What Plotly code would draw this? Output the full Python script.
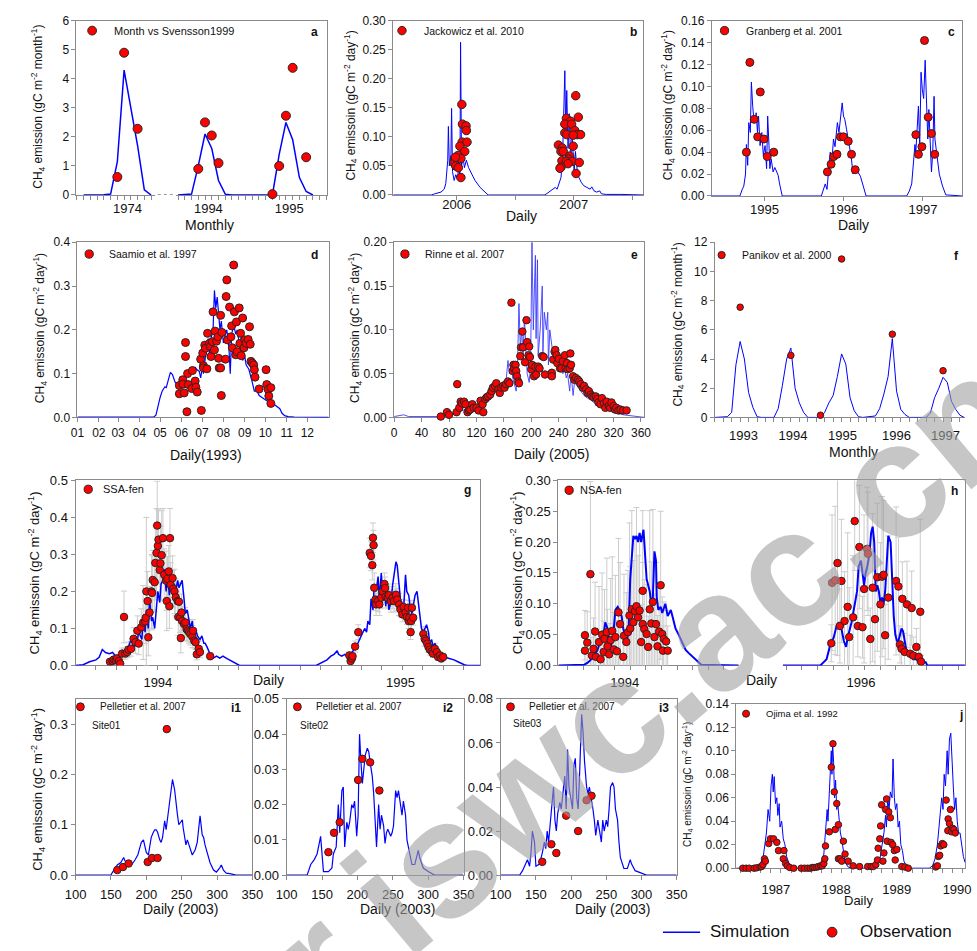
import plotly.graph_objects as go

W, H = 977, 951
FONT = "Liberation Sans, Arial, Helvetica, sans-serif"
BLUE = "#0000ff"
RED = "#ff0000"
FRAME = "#8a8a8a"
ERRC = "#cccccc"

# ================= DATA =================
# (a) monthly, month index (0 = Jan 1974, 12 = Jan 1994, 24 = Jan 1995)
a_sim1_t = [0, 1, 2, 3, 4, 5, 6, 7, 8, 9, 10]
a_sim1_v = [0, 0, 0, 0.01, 0.03, 1.15, 4.3, 3.0, 1.7, 0.18, 0]
a_sim2_t = [14, 15, 16, 17, 18, 19, 20, 21, 22, 23, 24, 25, 26, 27, 28, 29, 30, 31, 32, 33, 34]
a_sim2_v = [0, 0.01, 0.03, 1.0, 2.1, 1.6, 0.5, 0.03, 0, 0, 0, 0, 0, 0, 0, 1.4, 2.5, 1.9, 0.6, 0.12, 0]
a_obs_t = [5, 6, 8, 17, 18, 19, 20, 28, 29, 30, 31, 33]
a_obs_v = [0.62, 4.9, 2.28, 0.9, 2.5, 2.05, 1.1, 0.03, 1.0, 2.73, 4.38, 1.3]
a_ticks = ["1974", "1994", "1995"]

# (b) daily, day from 1 Jan 2006
b_sim_d = [-16, 103, 113, 133, 143, 148, 154, 156, 159, 164, 166, 169, 174, 179, 184, 189, 192, 194, 197, 202,
           206, 212, 219, 229, 239, 255, 270, 280, 457, 462, 477, 489, 495, 502, 507, 512, 515, 519, 522, 525,
           529, 533, 537, 542, 548, 552, 558, 563, 570, 578, 588, 598, 603, 610, 618, 628, 633, 648, 694, 765]
b_sim_v = [0, 0, 0.002, 0.005, 0.01, 0.02, 0.06, 0.118, 0.05, 0.07, 0.149, 0.04, 0.025, 0.035, 0.028, 0.05, 0.03, 0.263, 0.05, 0.065,
           0.047, 0.06, 0.047, 0.035, 0.025, 0.013, 0.005, 0, 0, 0.002, 0.007, 0.013, 0.01, 0.02, 0.03, 0.065, 0.137, 0.214, 0.1, 0.18,
           0.08, 0.14, 0.06, 0.1, 0.04, 0.075, 0.04, 0.03, 0.022, 0.016, 0.013, 0.01, 0.014, 0.007, 0.005, 0.007, 0.002, 0.001, 0.001, 0]
b_obs_d = [198, 200, 211, 212, 199, 214, 192, 207, 186, 176, 174, 179, 187, 195, 195, 178,
           553, 561, 524, 537, 519, 540, 550, 519, 525, 558, 568, 545, 499, 511, 507, 514, 545, 534, 530, 510,
           524, 542, 529, 564, 507, 504, 554]
b_obs_v = [0.156, 0.122, 0.119, 0.111, 0.091, 0.091, 0.084, 0.075, 0.068, 0.062, 0.055, 0.05, 0.047, 0.063, 0.03, 0.065,
           0.171, 0.134, 0.132, 0.127, 0.122, 0.122, 0.111, 0.107, 0.104, 0.104, 0.104, 0.103, 0.086, 0.081, 0.075, 0.075, 0.084, 0.067, 0.062, 0.059,
           0.058, 0.058, 0.054, 0.056, 0.048, 0.046, 0.037]
b_ticks = ["2006", "2007"]

# (c) daily, day from 1 Jan 1995
c_sim_d = [-60, 69, 80, 87, 95, 99, 105, 110, 117, 122, 128, 132, 140, 144, 150, 155, 162, 170, 177, 185,
           192, 197, 203, 207, 213, 222, 230, 237, 245, 252, 264,
           444, 455, 462, 470, 477, 485, 492, 500, 507, 518, 525, 533, 540, 546, 552, 560, 567, 575, 582, 590,
           597, 605, 615, 624, 635, 650,
           837, 849, 860, 867, 875, 879, 885, 891, 897, 903, 909, 915, 922, 927, 934, 939, 945, 951, 957, 963,
           967, 972, 979, 987, 1002, 1017, 1092]
c_sim_v = [0, 0, 0.006, 0.009, 0.02, 0.047, 0.028, 0.067, 0.058, 0.104, 0.082, 0.073, 0.068, 0.076, 0.058, 0.073, 0.046, 0.058, 0.037, 0.046,
           0.025, 0.073, 0.046, 0.025, 0.034, 0.022, 0.026, 0.022, 0.019, 0.011, 0,
           0, 0.0075, 0.011, 0.006, 0.025, 0.04, 0.03, 0.052, 0.045, 0.067, 0.058, 0.076, 0.085, 0.073, 0.07, 0.061, 0.052, 0.046, 0.035, 0.02,
           0.025, 0.022, 0.021, 0.018, 0.011, 0,
           0, 0.0045, 0.011, 0.029, 0.047, 0.04, 0.064, 0.082, 0.046, 0.113, 0.097, 0.089, 0.124, 0.082, 0.052, 0.079, 0.043, 0.022, 0.04, 0.091,
           0.052, 0.043, 0.031, 0.02, 0.009, 0.001, 0]
c_obs_d = [99, 115, 135, 151, 163, 180, 195, 225, 472, 489, 501, 516, 532, 546, 568, 583, 600,
           879, 891, 907, 919, 936, 951, 966]
c_obs_v = [0.04, 0.122, 0.07, 0.054, 0.095, 0.052, 0.036, 0.04, 0.022, 0.029, 0.036, 0.038, 0.054, 0.054, 0.05, 0.038, 0.024,
           0.056, 0.038, 0.045, 0.142, 0.072, 0.057, 0.038]
c_ticks = ["1995", "1996", "1997"]

# (d) daily 1993, day of year
d_sim_d = [0, 111, 114, 116, 120, 123, 127, 129, 133, 135, 138, 140, 142, 145, 147, 149, 154, 159, 164, 168,
           171, 173, 177, 179, 182, 183, 186, 188, 190, 192, 194, 197, 199, 201, 203, 205, 207, 209, 212, 215,
           217, 220, 222, 224, 227, 230, 232, 235, 237, 238, 240, 243, 245, 249, 251, 254, 257, 261, 264, 268,
           272, 275, 280, 282, 284, 289, 294, 297, 301, 306, 315, 365]
d_sim_v = [0.001, 0.001, 0.005, 0.02, 0.045, 0.06, 0.07, 0.068, 0.09, 0.103, 0.098, 0.09, 0.08, 0.075, 0.065, 0.08, 0.09, 0.1, 0.105, 0.1,
           0.115, 0.11, 0.105, 0.09, 0.12, 0.1, 0.14, 0.17, 0.18, 0.14, 0.18, 0.2, 0.29, 0.25, 0.275, 0.23, 0.2, 0.22, 0.17, 0.19,
           0.2, 0.16, 0.1, 0.19, 0.21, 0.19, 0.2, 0.17, 0.15, 0.2, 0.13, 0.14, 0.12, 0.11, 0.1, 0.08, 0.06, 0.06, 0.05, 0.045,
           0.04, 0.038, 0.035, 0.03, 0.032, 0.026, 0.02, 0.01, 0.004, 0.002, 0.001, 0]
d_obs_d = [148, 148, 153, 153, 155, 157, 157, 159, 160, 161, 166, 167, 171, 172, 174, 179, 180, 182, 183, 183,
           185, 186, 188, 189, 192, 193, 194, 196, 197, 199, 200, 202, 204, 205, 206, 208, 208, 209, 210, 215,
           216, 217, 218, 221, 223, 224, 225, 227, 228, 230, 231, 232, 235, 236, 237, 238, 240, 242, 243, 245,
           248, 250, 251, 252, 254, 256, 257, 258, 264, 274, 275, 277, 278, 281, 281]
d_obs_v = [0.073, 0.054, 0.086, 0.076, 0.056, 0.171, 0.139, 0.013, 0.1, 0.075, 0.066, 0.107, 0.083, 0.069, 0.058, 0.133, 0.016, 0.147, 0.118, 0.113,
           0.165, 0.158, 0.111, 0.192, 0.169, 0.162, 0.139, 0.173, 0.241, 0.154, 0.197, 0.174, 0.184, 0.135, 0.113, 0.233, 0.113, 0.05, 0.194, 0.133,
           0.276, 0.314, 0.177, 0.252, 0.184, 0.209, 0.159, 0.348, 0.241, 0.143, 0.218, 0.15, 0.25, 0.169, 0.192, 0.141, 0.227, 0.159, 0.177, 0.169,
           0.178, 0.207, 0.167, 0.128, 0.124, 0.12, 0.109, 0.092, 0.065, 0.109, 0.075, 0.064, 0.049, 0.068, 0.032]
d_month_start = [0, 31, 59, 90, 120, 151, 181, 212, 243, 273, 304, 334]
d_month_lab = ["01", "02", "03", "04", "05", "06", "07", "08", "09", "10", "11", "12"]

# (e) daily 2005, day of year
e_sim_d = [0, 9, 14, 21, 54, 69, 78, 88, 97, 107, 114, 121, 128, 135, 142, 149, 154, 156, 160, 163,
           166, 168, 171, 173, 175, 178, 180, 182, 184, 186, 188, 190, 192, 194, 197, 199, 201, 203, 205, 206,
           207, 209, 210, 213, 216, 217, 219, 222, 224, 225, 227, 230, 232, 234, 237, 239, 242, 244, 246, 249,
           251, 253, 256, 258, 261, 263, 268, 272, 277, 282, 287, 291, 296, 301, 306, 310, 315, 320, 324, 334,
           343, 353, 365]
e_sim_v = [0.001, 0.002, 0.003, 0.001, 0.0005, 0.001, 0.002, 0.004, 0.007, 0.01, 0.012, 0.015, 0.018, 0.022, 0.027, 0.032, 0.036, 0.03, 0.038, 0.04,
           0.065, 0.05, 0.06, 0.045, 0.038, 0.03, 0.06, 0.13, 0.08, 0.1, 0.07, 0.115, 0.08, 0.05, 0.04, 0.06, 0.2, 0.1, 0.16, 0.185,
           0.09, 0.18, 0.07, 0.1, 0.15, 0.075, 0.12, 0.1, 0.12, 0.06, 0.1, 0.08, 0.07, 0.075, 0.07, 0.08, 0.06, 0.07, 0.05, 0.055,
           0.045, 0.05, 0.03, 0.05, 0.025, 0.04, 0.035, 0.03, 0.025, 0.022, 0.02, 0.017, 0.015, 0.013, 0.01, 0.012, 0.008, 0.006, 0.005, 0.003,
           0.002, 0.001, 0]
e_obs_d = [68, 77, 80, 91, 92, 95, 97, 99, 102, 104, 107, 109, 111, 114, 116, 120, 123, 126, 129, 130,
           133, 135, 137, 140, 142, 144, 147, 149, 152, 154, 156, 159, 161, 163, 166, 168, 171, 173, 174, 175,
           177, 178, 179, 181, 182, 184, 185, 187, 188, 191, 193, 194, 196, 197, 198, 200, 201, 204, 206, 207,
           210, 212, 216, 218, 220, 230, 230, 232, 234, 235, 237, 238, 240, 242, 244, 246, 249, 250, 252, 253,
           256, 257, 258, 261, 263, 265, 268, 270, 272, 275, 277, 280, 282, 284, 287, 289, 291, 294, 296, 298,
           301, 303, 306, 308, 310, 313, 315, 317, 320, 322, 324, 327, 330, 334, 339]
e_obs_v = [0.001, 0.006, 0.003, 0.006, 0.038, 0.011, 0.018, 0.016, 0.018, 0.015, 0.006, 0.008, 0.009, 0.015, 0.011, 0.011, 0.008, 0.019, 0.015, 0.006,
           0.021, 0.023, 0.024, 0.026, 0.03, 0.034, 0.036, 0.039, 0.032, 0.028, 0.034, 0.036, 0.034, 0.038, 0.041, 0.039, 0.131, 0.053, 0.06, 0.056,
           0.06, 0.053, 0.047, 0.041, 0.039, 0.07, 0.08, 0.098, 0.08, 0.063, 0.111, 0.086, 0.071, 0.081, 0.069, 0.055, 0.06, 0.047, 0.058, 0.049,
           0.058, 0.056, 0.07, 0.069, 0.049, 0.051, 0.047, 0.066, 0.075, 0.077, 0.071, 0.062, 0.067, 0.056, 0.056, 0.064, 0.071, 0.056, 0.062, 0.055,
           0.056, 0.073, 0.06, 0.047, 0.043, 0.045, 0.043, 0.041, 0.038, 0.034, 0.036, 0.032, 0.028, 0.03, 0.026, 0.024, 0.023, 0.024, 0.021, 0.017,
           0.015, 0.022, 0.016, 0.011, 0.018, 0.013, 0.011, 0.017, 0.013, 0.009, 0.011, 0.008, 0.009, 0.008, 0.008]

# (f) monthly, month index (0 = Jan 1993)
f_sim_t = [0, 3, 4, 5, 6, 7, 8, 9, 10, 11,
           14, 15, 16, 17, 18, 19, 20, 21, 22,
           25, 26, 27, 28, 29, 30, 31, 32, 33, 34, 35,
           38, 39, 40, 41, 42, 43, 44, 45, 46,
           50, 51, 52, 53, 54, 55, 56, 57, 58, 59]
f_sim_v = [0, 0.05, 0.35, 3.6, 5.2, 4.0, 1.7, 0.7, 0.05, 0,
           0, 0.6, 2.2, 4.0, 4.75, 2.0, 1.0, 0.35, 0,
           0, 0.35, 1.0, 1.5, 2.8, 4.35, 3.65, 1.35, 0.45, 0.05, 0,
           0.1, 0.6, 1.6, 2.8, 5.4, 1.8, 0.55, 0.2, 0,
           0, 0.3, 1.35, 2.0, 2.75, 2.4, 1.1, 0.55, 0.15, 0]
f_obs_t = [6, 18, 25, 30, 42, 54]
f_obs_v = [7.55, 4.25, 0.15, 10.85, 5.7, 3.2]
f_ticks = ["1993", "1994", "1995", "1996", "1997"]

# (g) SSA-fen, day count (1995 days = 365 + day of year)
g_sim_d = [80, 92, 102, 112, 117, 122, 127, 133, 138, 143, 148, 153, 158, 163, 167, 171, 176, 179, 184, 186,
           189, 191, 194, 196, 199, 201, 204, 207, 209, 212, 214, 217, 219, 222, 224, 227, 229, 232, 235, 237,
           240, 242, 245, 247, 250, 252, 255, 258, 260, 263, 265, 268, 271, 275, 278, 281, 283, 286, 291, 296,
           301, 306, 311, 316, 321, 326, 332, 337,
           457, 462, 469, 474, 480, 485, 490, 492, 497, 502, 508, 510, 515, 520, 525, 531, 533, 536, 538, 541,
           543, 546, 548, 551, 554, 556, 559, 561, 564, 566, 569, 571, 574, 577, 579, 582, 584, 587, 589, 592,
           594, 597, 599, 602, 605, 607, 610, 612, 615, 617, 620, 622, 625, 628, 630, 633, 635, 638, 640, 643,
           648, 653, 658, 663, 668, 673, 679, 684, 689, 694, 714]
g_sim_v = [0, 0.002, 0.01, 0.015, 0.022, 0.043, 0.035, 0.032, 0.035, 0.025, 0.028, 0.03, 0.04, 0.05, 0.07, 0.05, 0.06, 0.09, 0.07, 0.13,
           0.09, 0.15, 0.1, 0.18, 0.12, 0.13, 0.1, 0.15, 0.2, 0.17, 0.22, 0.23, 0.26, 0.2, 0.25, 0.19, 0.24, 0.2, 0.22, 0.2,
           0.23, 0.21, 0.22, 0.23, 0.18, 0.14, 0.15, 0.12, 0.1, 0.12, 0.08, 0.1, 0.08, 0.07, 0.08, 0.06, 0.06, 0.05, 0.03, 0.02,
           0.025, 0.02, 0.025, 0.02, 0.015, 0.01, 0.005, 0,
           0, 0.005, 0.01, 0.015, 0.025, 0.03, 0.04, 0.03, 0.025, 0.03, 0.02, 0.03, 0.04, 0.05, 0.07, 0.09, 0.1, 0.09, 0.12, 0.11,
           0.18, 0.15, 0.22, 0.2, 0.24, 0.18, 0.25, 0.2, 0.21, 0.16, 0.2, 0.15, 0.17, 0.22, 0.25, 0.28, 0.27, 0.22, 0.18, 0.16,
           0.15, 0.245, 0.2, 0.19, 0.15, 0.14, 0.17, 0.19, 0.2, 0.17, 0.12, 0.1, 0.09, 0.1, 0.11, 0.09, 0.06, 0.07, 0.05, 0.06,
           0.04, 0.03, 0.02, 0.02, 0.018, 0.015, 0.01, 0.005, 0.002, 0, 0]
g_obs_d = [134, 138, 140, 143, 145, 148, 150, 153, 156, 158, 161, 163, 167, 171, 174, 177, 179, 183, 186, 189,
           190, 191, 193, 194, 196, 199, 200, 201, 204, 205, 207, 208, 209, 210, 212, 213, 215, 217, 219, 222,
           223, 224, 226, 227, 228, 229, 232, 233, 235, 237, 240, 241, 242, 244, 245, 246, 247, 250, 252, 254,
           256, 258, 260, 263, 264, 266, 268, 270, 273, 275, 291,
           509, 511, 513, 514, 518, 523, 541, 543, 545, 546, 547, 548, 550, 551, 554, 556, 559, 561, 564, 565,
           566, 569, 571, 574, 577, 579, 582, 584, 587, 589, 592, 594, 597, 599, 601, 602, 603, 605, 606, 607,
           609, 625, 627, 629, 631, 633, 635, 638, 640, 643, 646, 648, 651, 653, 656]
g_obs_v = [0.01, 0.012, 0.016, 0.014, 0.019, 0.012, 0.005, 0.032, 0.131, 0.032, 0.036, 0.043, 0.045, 0.072, 0.063, 0.094, 0.059, 0.103, 0.116, 0.119,
           0.129, 0.2, 0.174, 0.076, 0.143, 0.2, 0.196, 0.231, 0.225, 0.277, 0.304, 0.378, 0.323, 0.34, 0.258, 0.276, 0.298, 0.344, 0.245, 0.229,
           0.174, 0.234, 0.254, 0.16, 0.344, 0.218, 0.236, 0.207, 0.2, 0.184, 0.174, 0.131, 0.172, 0.129, 0.074, 0.143, 0.12, 0.112, 0.116, 0.098,
           0.094, 0.09, 0.085, 0.078, 0.094, 0.067, 0.063, 0.03, 0.045, 0.036, 0.025,
           0.027, 0.012, 0.019, 0.025, 0.051, 0.09, 0.304, 0.296, 0.271, 0.345, 0.325, 0.21, 0.178, 0.165, 0.175, 0.165, 0.183, 0.2, 0.22, 0.209,
           0.186, 0.183, 0.19, 0.174, 0.183, 0.174, 0.191, 0.178, 0.165, 0.152, 0.138, 0.158, 0.143, 0.131, 0.156, 0.12, 0.129, 0.09, 0.12, 0.156,
           0.129, 0.085, 0.072, 0.067, 0.059, 0.05, 0.043, 0.038, 0.032, 0.045, 0.036, 0.023, 0.027, 0.019, 0.023]
g_obs_err = [0.005, 0.005, 0.008, 0.006, 0.01, 0.008, 0.005, 0.015, 0.07, 0.015, 0.015, 0.02, 0.02, 0.03, 0.03, 0.04, 0.03, 0.05, 0.1, 0.06,
             0.05, 0.2, 0.08, 0.05, 0.07, 0.1, 0.1, 0.08, 0.08, 0.1, 0.12, 0.12, 0.1, 0.08, 0.08, 0.1, 0.12, 0.08, 0.07, 0.08,
             0.08, 0.06, 0.07, 0.06, 0.08, 0.06, 0.06, 0.05, 0.06, 0.05, 0.05, 0.05, 0.05, 0.04, 0.04, 0.05, 0.04, 0.03, 0.04, 0.03,
             0.03, 0.03, 0.03, 0.03, 0.03, 0.02, 0.02, 0.015, 0.02, 0.015, 0.01,
             0.01, 0.008, 0.008, 0.01, 0.015, 0.02, 0.04, 0.04, 0.04, 0.04, 0.04, 0.04, 0.03, 0.03, 0.03, 0.03, 0.03, 0.03, 0.03, 0.03,
             0.03, 0.03, 0.03, 0.03, 0.03, 0.03, 0.03, 0.03, 0.03, 0.02, 0.02, 0.02, 0.02, 0.02, 0.02, 0.02, 0.02, 0.02, 0.02, 0.02,
             0.02, 0.02, 0.02, 0.015, 0.015, 0.015, 0.015, 0.01, 0.01, 0.015, 0.01, 0.01, 0.01, 0.01, 0.01]
g_ticks = ["1994", "1995"]

# (h) NSA-fen, day of year for 1994 and 1996
h94_sim_d = [80, 113, 118, 122, 126, 130, 134, 138, 140, 143, 145, 147, 150, 153, 156, 158, 161, 163, 165, 168,
             170, 172, 174, 176, 178, 180, 182, 184, 186, 188, 189, 190, 193, 195, 197, 199, 201, 203, 205, 206,
             208, 211, 213, 217, 220, 222, 224, 226, 230, 234, 238, 243, 247, 251, 255, 259, 263, 311]
h94_sim_v = [0, 0.001, 0.005, 0.01, 0.015, 0.025, 0.04, 0.05, 0.07, 0.06, 0.04, 0.03, 0.045, 0.09, 0.095, 0.09, 0.08, 0.06, 0.05, 0.04,
             0.06, 0.14, 0.18, 0.21, 0.205, 0.21, 0.2, 0.215, 0.2, 0.21, 0.22, 0.2, 0.14, 0.13, 0.12, 0.1, 0.11, 0.185, 0.17, 0.11,
             0.09, 0.095, 0.085, 0.1, 0.08, 0.085, 0.09, 0.08, 0.06, 0.05, 0.04, 0.025, 0.02, 0.015, 0.01, 0.005, 0.001, 0]
h96_sim_d = [80, 128, 132, 136, 140, 145, 149, 152, 155, 158, 161, 163, 168, 172, 175, 177, 180, 182, 184, 186,
             188, 191, 193, 195, 197, 199, 201, 203, 205, 207, 209, 211, 213, 215, 218, 220, 222, 224, 226, 228,
             230, 232, 234, 236, 238, 243, 247, 251, 255, 259, 263, 265, 313]
h96_sim_v = [0, 0, 0.005, 0.01, 0.03, 0.045, 0.065, 0.07, 0.06, 0.04, 0.03, 0.045, 0.07, 0.1, 0.12, 0.16, 0.17, 0.15, 0.13, 0.15,
             0.16, 0.18, 0.215, 0.225, 0.2, 0.12, 0.13, 0.12, 0.1, 0.11, 0.1, 0.12, 0.16, 0.21, 0.2, 0.14, 0.08, 0.05, 0.04, 0.04,
             0.05, 0.06, 0.055, 0.04, 0.025, 0.015, 0.01, 0.01, 0.005, 0.005, 0.005, 0, 0]
h94_obs_d = [114, 117, 114, 121, 123, 125, 127, 128, 132, 134, 136, 138, 139, 142, 143, 145, 147, 149, 151, 153,
             155, 157, 159, 163, 164, 167, 169, 171, 172, 174, 176, 178, 180, 182, 184, 186, 188, 188, 190, 193,
             195, 197, 199, 201, 203, 205, 207, 209, 211, 213, 214, 215, 218, 220]
h94_obs_v = [0.049, 0.037, 0.024, 0.148, 0.016, 0.027, 0.055, 0.014, 0.038, 0.01, 0.05, 0.022, 0.043, 0.054, 0.031, 0.018, 0.041, 0.056, 0.026, 0.046,
             0.023, 0.086, 0.067, 0.014, 0.048, 0.038, 0.054, 0.081, 0.06, 0.091, 0.07, 0.088, 0.096, 0.078, 0.089, 0.038, 0.121, 0.067, 0.059, 0.051,
             0.03, 0.091, 0.068, 0.103, 0.046, 0.067, 0.031, 0.055, 0.13, 0.051, 0.024, 0.043, 0.039, 0.024]
h94_obs_err = [0.04, 0.05, 0.03, 0.15, 0.03, 0.05, 0.08, 0.04, 0.09, 0.03, 0.1, 0.05, 0.08, 0.12, 0.06, 0.05, 0.1, 0.12, 0.06, 0.1,
               0.05, 0.12, 0.1, 0.04, 0.1, 0.08, 0.1, 0.15, 0.1, 0.16, 0.1, 0.12, 0.16, 0.1, 0.12, 0.06, 0.13, 0.1, 0.08, 0.08,
               0.05, 0.16, 0.1, 0.15, 0.07, 0.1, 0.05, 0.08, 0.12, 0.06, 0.04, 0.06, 0.05, 0.04]
h96_obs_d = [142, 143, 147, 150, 155, 153, 159, 163, 165, 170, 172, 176, 178, 182, 184, 188, 189, 192, 195, 198,
             201, 205, 207, 209, 211, 215, 225, 228, 230, 232, 233, 236, 239, 243, 245, 247, 251, 254, 256, 257]
h96_obs_v = [0.036, 0.134, 0.138, 0.166, 0.137, 0.064, 0.072, 0.095, 0.046, 0.078, 0.234, 0.064, 0.192, 0.062, 0.124, 0.189, 0.181, 0.043, 0.126, 0.075,
             0.143, 0.099, 0.144, 0.147, 0.049, 0.11, 0.137, 0.128, 0.034, 0.027, 0.108, 0.022, 0.099, 0.019, 0.093, 0.016, 0.03, 0.014, 0.087, 0.006]
h96_obs_err = [0.03, 0.11, 0.12, 0.15, 0.1, 0.06, 0.08, 0.12, 0.08, 0.1, 0.08, 0.05, 0.1, 0.05, 0.12, 0.1, 0.1, 0.05, 0.12, 0.08,
               0.12, 0.1, 0.13, 0.12, 0.05, 0.1, 0.12, 0.08, 0.03, 0.03, 0.06, 0.03, 0.07, 0.03, 0.06, 0.03, 0.03, 0.02, 0.15, 0.01]
h_ticks = ["1994", "1996"]

# (i1-i3) Pelletier et al. 2007, day of year 2003
i1_sim_d = [100, 150, 152, 154, 157, 159, 164, 166, 168, 170, 173, 176, 180, 184, 188, 191, 193, 196, 198, 200,
            203, 205, 207, 210, 212, 214, 216, 219, 221, 223, 226, 228, 230, 233, 235, 237, 240, 242, 244, 246,
            249, 251, 252, 254, 256, 258, 260, 263, 265, 267, 269, 272, 274, 276, 279, 281, 283, 286, 290, 295,
            299, 304, 306, 309, 313, 318, 322, 327, 350]
i1_sim_v = [0, 0, 0.005, 0.01, 0.015, 0.02, 0.025, 0.03, 0.035, 0.028, 0.022, 0.025, 0.022, 0.03, 0.04, 0.055, 0.065, 0.07, 0.055, 0.045,
            0.04, 0.06, 0.075, 0.085, 0.09, 0.09, 0.085, 0.07, 0.065, 0.075, 0.108, 0.09, 0.11, 0.14, 0.17, 0.19, 0.17, 0.14, 0.12, 0.1,
            0.105, 0.11, 0.095, 0.075, 0.06, 0.07, 0.06, 0.05, 0.04, 0.045, 0.05, 0.065, 0.1, 0.118, 0.08, 0.075, 0.06, 0.045, 0.025, 0.01,
            0.006, 0.015, 0.02, 0.01, 0.004, 0.003, 0.002, 0, 0]
i1_obs_d = [159, 167, 175, 202, 208, 216, 229]
i1_obs_v = [0.01, 0.016, 0.023, 0.026, 0.034, 0.034, 0.29]

i2_sim_d = [100, 129, 134, 139, 143, 145, 148, 150, 152, 159, 164, 166, 170, 173, 175, 178, 180, 182, 185, 187,
            189, 192, 194, 196, 199, 201, 203, 205, 207, 208, 211, 214, 216, 218, 221, 223, 225, 227, 230, 232,
            234, 237, 239, 241, 243, 247, 249, 251, 254, 256, 258, 261, 263, 265, 268, 270, 273, 277, 281, 284,
            286, 288, 293, 300, 309, 350]
i2_sim_v = [0, 0, 0.003, 0.0044, 0.006, 0.008, 0.011, 0.006, 0.001, 0.001, 0.002, 0.006, 0.008, 0.02, 0.012, 0.024, 0.025, 0.008, 0.015, 0.013,
            0.015, 0.02, 0.019, 0.021, 0.011, 0.017, 0.04, 0.032, 0.026, 0.028, 0.034, 0.036, 0.035, 0.032, 0.028, 0.023, 0.016, 0.008, 0.02, 0.013,
            0.017, 0.014, 0.009, 0.012, 0.013, 0.011, 0.012, 0.014, 0.024, 0.022, 0.024, 0.02, 0.017, 0.021, 0.017, 0.01, 0.007, 0.003, 0.003, 0.005,
            0.007, 0.005, 0.002, 0.001, 0, 0]
i2_obs_d = [159, 167, 175, 201, 207, 218, 231]
i2_obs_v = [0.0065, 0.012, 0.015, 0.027, 0.033, 0.032, 0.024]

i3_sim_d = [100, 127, 131, 136, 138, 141, 143, 145, 148, 150, 155, 159, 162, 164, 166, 168, 171, 173, 175, 177,
            179, 181, 184, 186, 188, 191, 193, 195, 197, 200, 202, 204, 206, 208, 210, 212, 215, 217, 219, 222,
            224, 226, 229, 231, 233, 235, 238, 240, 243, 245, 247, 250, 252, 254, 256, 259, 261, 263, 266, 268,
            270, 275, 280, 284, 286, 291, 298, 307, 350]
i3_sim_v = [0, 0, 0.002, 0.006, 0.007, 0.004, 0.01, 0.02, 0.015, 0.004, 0.005, 0.01, 0.015, 0.012, 0.02, 0.015, 0.025, 0.035, 0.04, 0.025,
            0.02, 0.028, 0.033, 0.03, 0.035, 0.045, 0.03, 0.057, 0.04, 0.035, 0.03, 0.05, 0.053, 0.035, 0.03, 0.045, 0.073, 0.065, 0.052, 0.04,
            0.037, 0.04, 0.035, 0.03, 0.025, 0.018, 0.025, 0.02, 0.015, 0.025, 0.02, 0.025, 0.022, 0.03, 0.04, 0.042, 0.04, 0.03, 0.025, 0.015,
            0.008, 0.003, 0.003, 0.007, 0.005, 0.002, 0.001, 0, 0]
i3_obs_d = [159, 172, 179, 193, 210, 222, 229]
i3_obs_v = [0.006, 0.014, 0.01, 0.027, 0.02, 0.034, 0.036]

# (j) Ojima et al. 1992, day from 1 Jan 1987
j_sim_d = [-57, 51, 70, 90, 106, 115, 125, 135, 145, 153, 161, 166, 172, 180, 188, 194, 202, 207, 217, 227,
           237, 247, 256, 266, 286,
           423, 443, 458, 472, 482, 492, 497, 505, 513, 517, 521, 525, 531, 537, 543, 550, 556, 564, 572, 580,
           590, 600, 619, 639,
           776, 796, 811, 825, 835, 845, 850, 858, 866, 874, 884, 890, 898, 905, 913, 921, 929, 937, 947, 956,
           972, 992,
           1109, 1129, 1144, 1158, 1172, 1184, 1192, 1199, 1207, 1217, 1223, 1231, 1239, 1246, 1254, 1262, 1270, 1278, 1286, 1295,
           1305, 1315, 1325]
j_sim_v = [0, 0, 0.001, 0.004, 0.01, 0.02, 0.03, 0.05, 0.04, 0.07, 0.08, 0.065, 0.078, 0.055, 0.06, 0.045, 0.055, 0.035, 0.04, 0.025,
           0.02, 0.01, 0.005, 0.002, 0,
           0, 0.002, 0.006, 0.012, 0.03, 0.05, 0.04, 0.07, 0.09, 0.1, 0.08, 0.107, 0.09, 0.06, 0.075, 0.05, 0.055, 0.04, 0.03, 0.025,
           0.015, 0.005, 0.001, 0,
           0, 0.002, 0.008, 0.02, 0.03, 0.045, 0.035, 0.06, 0.05, 0.065, 0.06, 0.093, 0.06, 0.05, 0.055, 0.035, 0.04, 0.02, 0.015, 0.006,
           0.001, 0,
           0, 0.002, 0.008, 0.02, 0.04, 0.06, 0.05, 0.08, 0.07, 0.1, 0.08, 0.11, 0.115, 0.09, 0.07, 0.05, 0.06, 0.04, 0.03, 0.03,
           0.02, 0.01, 0.005]
j_obs_d = [-18, 2, 21, 51, 66, 86, 96, 104, 113, 119, 139, 149, 168, 188, 198, 231, 227, 241, 251, 266, 290,
           335, 355, 374, 390, 404, 413, 427, 439, 453, 462, 472, 478, 482, 505, 517, 527, 535, 541, 550, 560,
           560, 570, 580, 590, 600, 619, 649, 688,
           737, 757, 770, 786, 796, 800, 810, 815, 821, 829, 835, 845, 851, 854, 864, 874, 878, 888, 898, 903,
           913, 943, 962, 982,
           1148, 1158, 1164, 1172, 1178, 1188, 1197, 1211, 1221, 1223, 1231, 1237, 1243, 1250, 1258, 1266]
j_obs_v = [0, 0, 0, 0, 0.0003, 0.001, 0.0014, 0.003, 0.008, 0.006, 0.021, 0.025, 0.025, 0.022, 0.015, 0.015, 0.008, 0.004, 0.002, 0.0006, 0,
           0, 0, 0, 0, 0.0006, 0.0006, 0.0008, 0.0014, 0.002, 0.002, 0.004, 0.008, 0.019, 0.031, 0.086, 0.106, 0.065, 0.033, 0.055, 0.037,
           0.008, 0.008, 0.006, 0.023, 0.012, 0.006, 0.002, 0.0014,
           0.0014, 0.0014, 0.0014, 0.003, 0.007, 0.017, 0.025, 0.036, 0.054, 0.006, 0.013, 0.05, 0.059, 0.023, 0.048, 0.043, 0.022, 0.02, 0.015, 0.007,
           0.016, 0.0014, 0.001, 0,
           0.001, 0.002, 0.01, 0.011, 0.019, 0.021, 0.02, 0.058, 0.032, 0.042, 0.038, 0.05, 0.031, 0.034, 0.033, 0.03]
j_ticks = ["1987", "1988", "1989", "1990"]

# ================= FIGURE =================
fig = go.Figure()


def xr(k):
    return "x" if k == 1 else f"x{k}"


def yr(k):
    return "y" if k == 1 else f"y{k}"


def sim(k, x, y, w=1.0, color=BLUE):
    fig.add_trace(go.Scatter(x=x, y=y, mode="lines", line=dict(color=color, width=w),
                             xaxis=xr(k), yaxis=yr(k), showlegend=False, hoverinfo="skip",
                             cliponaxis=False))


def obs(k, x, y, size=8, clip=False):
    fig.add_trace(go.Scatter(x=x, y=y, mode="markers",
                             marker=dict(color=RED, size=size, line=dict(color="#262626", width=1)),
                             xaxis=xr(k), yaxis=yr(k), showlegend=False, hoverinfo="skip",
                             cliponaxis=clip))


def errbars(k, x, y, e):
    fig.add_trace(go.Scatter(x=x, y=y, mode="markers", marker=dict(size=1, color="rgba(0,0,0,0)"),
                             error_y=dict(type="data", array=e, visible=True, color=ERRC, thickness=1, width=3),
                             xaxis=xr(k), yaxis=yr(k), showlegend=False, hoverinfo="skip", cliponaxis=True))


H_OFF = 287.5  # axis shift that places the 1996 block of panel h after the break

# traces
sim(1, a_sim1_t, a_sim1_v, 1.5)
sim(1, a_sim2_t, a_sim2_v, 1.5)
obs(1, a_obs_t, a_obs_v, 9)

sim(2, b_sim_d, b_sim_v, 1.0)
obs(2, b_obs_d, b_obs_v, 8.5)

sim(3, c_sim_d, c_sim_v, 1.0)
obs(3, c_obs_d, c_obs_v, 8)

sim(4, d_sim_d, d_sim_v, 1.2)
obs(4, d_obs_d, d_obs_v, 8)

sim(5, e_sim_d, e_sim_v, 0.9, "#3c3cff")
obs(5, e_obs_d, e_obs_v, 7.5)

sim(6, f_sim_t, f_sim_v, 1.0)
obs(6, f_obs_t, f_obs_v, 6.5)

errbars(7, g_obs_d, g_obs_v, g_obs_err)
sim(7, g_sim_d, g_sim_v, 1.5)
obs(7, g_obs_d, g_obs_v, 7.5, clip=True)

h96x_sim = [d + H_OFF for d in h96_sim_d]
h96x_obs = [d + H_OFF for d in h96_obs_d]
errbars(8, h94_obs_d, h94_obs_v, h94_obs_err)
errbars(8, h96x_obs, h96_obs_v, h96_obs_err)
sim(8, h94_sim_d, h94_sim_v, 2.0)
sim(8, h96x_sim, h96_sim_v, 2.0)
obs(8, h94_obs_d, h94_obs_v, 7.5, clip=True)
obs(8, h96x_obs, h96_obs_v, 7.5, clip=True)

sim(9, i1_sim_d, i1_sim_v, 1.2)
obs(9, i1_obs_d, i1_obs_v, 7.5)
sim(10, i2_sim_d, i2_sim_v, 1.2)
obs(10, i2_obs_d, i2_obs_v, 7.5)
sim(11, i3_sim_d, i3_sim_v, 1.2)
obs(11, i3_obs_d, i3_obs_v, 7.5)

sim(12, j_sim_d, j_sim_v, 1.0)
obs(12, j_obs_d, j_obs_v, 6.5)

# ---------- axes ----------
layout = {}


def axes(k, box, xrange, yrange, xkw, ykw, mirror=True, xfs=12, yfs=12, xstand=0):
    l, r, t, b = box
    base = dict(showline=True, linecolor=FRAME, linewidth=1, mirror=mirror, ticks="outside",
                ticklen=4, tickwidth=1, tickcolor=FRAME, showgrid=False, zeroline=False,
                layer="below traces", fixedrange=True)
    xa = dict(base, domain=[l / W, r / W], anchor=yr(k), range=xrange,
              tickfont=dict(family=FONT, size=xfs, color="#111111"), ticklabelstandoff=xstand)
    xa.update(xkw)
    ya = dict(base, domain=[1 - b / H, 1 - t / H], anchor=xr(k), range=yrange,
              tickfont=dict(family=FONT, size=yfs, color="#111111"))
    ya.update(ykw)
    layout["xaxis" if k == 1 else f"xaxis{k}"] = xa
    layout["yaxis" if k == 1 else f"yaxis{k}"] = ya


HIDE = "rgba(0,0,0,0)"


def minor(vals):
    return dict(tickmode="array", tickvals=vals, ticks="outside", ticklen=4, tickcolor=FRAME)


axes(1, (67, 323, 14, 191), [-1.06, 36.05], [0, 6],
     dict(tickmode="array", tickvals=[6.5, 18.5, 30.5], ticktext=a_ticks, tickcolor=HIDE,
          minor=minor(list(range(-1, 37)))),
     dict(dtick=1, tick0=0), xfs=13, xstand=-3)
axes(2, (391, 647, 14, 191), [-16, 764], [0, 0.30],
     dict(tickmode="array", tickvals=[182, 547], ticktext=b_ticks,
          minor=minor([365, 730])),
     dict(dtick=0.05, tick0=0, tickformat=".2f"), xfs=13, xstand=-7)
axes(3, (717, 973, 14, 192), [-60, 1092], [0, 0.16],
     dict(tickmode="array", tickvals=[182, 547, 912], ticktext=c_ticks),
     dict(dtick=0.02, tick0=0, tickformat=".2f"), xfs=13, xstand=-3)
axes(4, (68, 325, 239, 417), [0, 365], [0, 0.4],
     dict(tickmode="array", tickvals=d_month_start, ticktext=d_month_lab),
     dict(dtick=0.1, tick0=0, tickformat=".1f"))
axes(5, (392, 648, 239, 417), [0, 365], [0, 0.20],
     dict(dtick=40, tick0=0),
     dict(dtick=0.05, tick0=0, tickformat=".2f"))
axes(6, (720, 976, 239, 417), [0, 59.2], [0, 12],
     dict(tickmode="array", tickvals=[6.8, 18.5, 30.2, 43, 54.6], ticktext=f_ticks, tickcolor=HIDE,
          minor=minor(list(range(0, 60, 2)))),
     dict(dtick=2, tick0=0), mirror=False, xfs=13, xstand=2)
axes(7, (66, 480, 481, 669), [80, 714], [0, 0.5],
     dict(tickmode="array", tickvals=[209, 589], ticktext=g_ticks, tickcolor=HIDE,
          minor=minor(list(range(112, 714, 32)))),
     dict(dtick=0.1, tick0=0, tickformat=".1f"), xfs=13, yfs=13, xstand=1)
axes(8, (560, 976, 481, 669), [80, 600.8], [0, 0.30],
     dict(tickmode="array", tickvals=[165, 467.5], ticktext=h_ticks, tickcolor=HIDE,
          minor=minor(list(range(92, 600, 20)))),
     dict(dtick=0.05, tick0=0, tickformat=".2f"), xfs=13, yfs=13, xstand=1)
axes(9, (66, 247, 703, 882), [100, 350], [0, 0.35],
     dict(dtick=50, tick0=100),
     dict(tickmode="array", tickvals=[0, 0.1, 0.2, 0.3], tickformat=".1f"), xfs=13, yfs=13, xstand=3)
axes(10, (282, 463, 703, 882), [100, 350], [0, 0.05],
     dict(dtick=50, tick0=100),
     dict(dtick=0.01, tick0=0, tickformat=".2f"), xfs=13, yfs=13, xstand=3)
axes(11, (501, 681, 703, 882), [100, 350], [0, 0.08],
     dict(dtick=50, tick0=100),
     dict(dtick=0.02, tick0=0, tickformat=".2f"), xfs=13, yfs=13, xstand=3)
axes(12, (742, 976, 708, 875), [-57, 1325], [0, 0.14],
     dict(tickmode="array", tickvals=[182, 547, 912, 1277], ticktext=j_ticks, tickcolor=HIDE,
          minor=minor(list(range(-31, 1325, 61)))),
     dict(dtick=0.02, tick0=0, tickformat=".2f"), xfs=13, xstand=5)

# ---------- annotations ----------
ann = []
shapes = []


def X(px):
    return px / W


def Y(py):
    return 1 - py / H


def text(px, py, s, size=11, anchor="left", bold=False, angle=0, color="#111111"):
    ann.append(dict(x=X(px), y=Y(py), xref="paper", yref="paper", text=f"<b>{s}</b>" if bold else s,
                    showarrow=False, xanchor=anchor, yanchor="middle", textangle=angle,
                    font=dict(family=FONT, size=size, color=color)))


def dot(px, py, r=4.3):
    shapes.append(dict(type="circle", xref="paper", yref="paper",
                       x0=X(px - r), x1=X(px + r), y0=Y(py + r), y1=Y(py - r),
                       fillcolor=RED, line=dict(color="#262626", width=1), layer="above"))


YT_DAY = "CH<sub>4</sub> emissoin (gC m<sup>-2</sup> day<sup>-1</sup>)"
YT_MON = "CH<sub>4</sub> emission (gC m<sup>-2</sup> month<sup>-1</sup>)"

# y-axis titles
text(28, 101, YT_MON, 12, "center", angle=-90)
text(348, 100, YT_DAY, 12, "center", angle=-90)
text(673, 100, YT_DAY, 12, "center", angle=-90)
text(30, 326, YT_DAY, 12, "center", angle=-90)
text(352, 326, YT_DAY, 12, "center", angle=-90)
text(682, 323, YT_MON, 12, "center", angle=-90)
text(24, 575, YT_DAY, 13, "center", angle=-90)
text(518, 575, YT_DAY, 13, "center", angle=-90)
text(28, 795, YT_DAY, 13, "center", angle=-90)
text(692, 790, YT_DAY, 10, "center", angle=-90)

# x-axis titles
text(203, 221, "Monthly", 14, "center")
text(522, 212, "Daily", 14, "center")
text(862, 222, "Daily", 14, "center")
text(200, 455, "Daily(1993)", 14, "center")
text(553, 454, "Daily (2005)", 14, "center")
text(862, 452, "Monthly", 14, "center")
text(263, 684, "Daily", 14, "center")
text(768, 684, "Daily", 14, "center")
text(173, 916, "Daily (2003)", 14, "center")
text(395, 916, "Daily (2003)", 14, "center")
text(615, 916, "Daily (2003)", 14, "center")
text(867, 908, "Daily", 13, "center")

# in-panel legends and letters
legends = [
    (83, 24, 103, "Month vs Svensson1999", 11, 4.5, 310, "a"),
    (400, 24, 420, "Jackowicz et al. 2010", 10.5, 4.3, 637, "b"),
    (730, 24, 750, "Granberg et al. 2001", 10.5, 4.2, 962, "c"),
    (80, 251, 98, "Saamio et al. 1997", 10.5, 4.2, 310, "d"),
    (403, 251, 422, "Rinne et al. 2007", 10.5, 4.2, 638, "e"),
    (727, 252, 746, "Panikov et al. 2000", 10.5, 3.7, 967, "f"),
    (79, 490, 92, "SSA-fen", 11, 4.2, 467, "g"),
    (571, 491, 580, "NSA-fen", 11, 4.2, 965, "h"),
    (71, 711, 89, "Pelletier et al. 2007", 10, 4.0, 230, "i1"),
    (293, 711, 310, "Pelletier et al. 2007", 10, 4.0, 447, "i2"),
    (511, 711, 528, "Pelletier et al. 2007", 10, 4.0, 668, "i3"),
    (752, 718, 770, "Ojima et al. 1992", 9.5, 3.6, 972, "j"),
]
for mx, my, tx, s, fs, r, lx, lt in legends:
    dot(mx, my, r)
    text(tx, my, s, fs, "left")
    text(lx, my + 1, lt, 12, "center", bold=True)

text(81, 730, "Site01", 10, "left")
text(294, 730, "Site02", 10, "left")
text(512, 728, "Site03", 10, "left")

# bottom legend
shapes.append(dict(type="line", xref="paper", yref="paper", x0=X(667), x1=X(705), y0=Y(940), y1=Y(940),
                   line=dict(color=BLUE, width=1.5), layer="above"))
text(713, 939, "Simulation", 17, "left")
dot(840, 940, 5)
text(867, 939, "Observation", 17, "left")

# axis breaks (panel a gap with dots, panel h gap)
shapes.append(dict(type="rect", xref="x", yref="paper", x0=10.6, x1=13.7, y0=Y(197), y1=Y(189.5),
                   fillcolor="white", line=dict(width=0), layer="above"))
shapes.append(dict(type="line", xref="x", yref="y", x0=11.0, x1=13.4, y0=0, y1=0,
                   line=dict(color="#9a9a9a", width=2, dash="dot"), layer="above"))
shapes.append(dict(type="rect", xref="x8", yref="paper", x0=311, x1=367.5, y0=Y(676), y1=Y(667.5),
                   fillcolor="white", line=dict(width=0), layer="above"))

# watermark
ann.append(dict(x=X(652), y=Y(690), xref="paper", yref="paper", text="<b>r.iswc.ac.cn</b>",
                showarrow=False, textangle=-40, xanchor="center", yanchor="middle",
                font=dict(family=FONT, size=165, color="rgba(160,160,160,0.6)")))

fig.update_layout(width=W, height=H, margin=dict(l=0, r=0, t=0, b=0),
                  paper_bgcolor="white", plot_bgcolor="white", showlegend=False,
                  annotations=ann, shapes=shapes, font=dict(family=FONT), **layout)

fig.write_html("out.html")
